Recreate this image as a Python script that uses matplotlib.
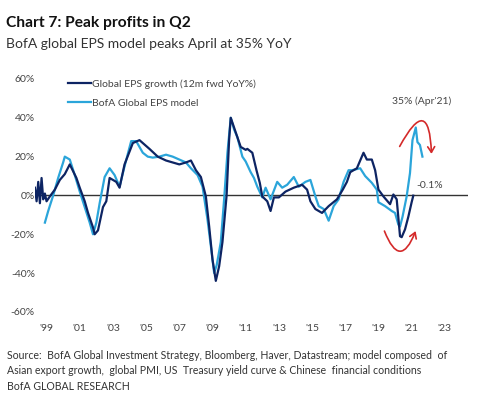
import matplotlib
matplotlib.use('Agg')
import matplotlib.pyplot as plt
from matplotlib.patches import FancyArrowPatch

plt.rcParams['font.family'] = ['Lato', 'DejaVu Sans']

# Global EPS growth (12m fwd YoY%)
dark_years = [1998.3, 1998.4, 1998.5, 1998.6, 1998.7, 1998.8, 1998.9, 1999.0, 1999.2, 1999.5,
              1999.8, 2000.1, 2000.4, 2000.8, 2001.0, 2001.3, 2001.5, 2001.8, 2001.9, 2002.1,
              2002.4, 2002.6, 2002.8, 2003.2, 2003.4, 2003.7, 2004.2, 2004.6, 2005.2, 2005.7,
              2006.2, 2006.6, 2007.0, 2007.4, 2007.7, 2008.0, 2008.3, 2008.6, 2008.8, 2009.0,
              2009.2, 2009.4, 2009.6, 2009.85, 2010.0, 2010.1, 2010.3, 2010.7, 2011.0, 2011.1,
              2011.4, 2011.65, 2011.85, 2012.0, 2012.3, 2012.5, 2012.7, 2013.0, 2013.4, 2013.9,
              2014.4, 2014.7, 2014.9, 2015.2, 2015.6, 2016.0, 2016.5, 2016.85, 2017.1, 2017.3,
              2017.7, 2018.1, 2018.3, 2018.6, 2018.8, 2019.0, 2019.3, 2019.7, 2019.9, 2020.1,
              2020.3, 2020.4, 2020.6, 2020.8, 2021.0, 2021.1]
dark_vals = [4, -3, 7, -4, 9, -2, 1, -3, -0.5, 3,
             8, 11, 16, 9, 4, -3, -9, -16.5, -20, -18,
             -6, -3, 9, 7, 4, 16, 27, 28.5, 24, 20,
             18, 17, 16, 17, 18, 13, 9.5, -0.5, -16, -33,
             -44, -36.5, -24, 0, 28.5, 40, 35, 25, 23.5, 24,
             22, 13, 6.5, -0.5, -3, -8, -1, -1, 2, 4,
             5.5, 3, -3, -7, -9, -5.5, -2, 3, 7, 12,
             14, 22, 18.5, 18.5, 13, 3, -0.5, -4.5, 0.5, -2,
             -21, -21.5, -17.5, -11, -3.5, -0.1]

# BofA Global EPS model
light_years = [1998.9, 1999.1, 1999.4, 1999.7, 2000.0, 2000.1, 2000.4, 2000.7, 2001.0, 2001.3,
               2001.6, 2001.8, 2002.0, 2002.2, 2002.5, 2002.8, 2003.1, 2003.4, 2003.7, 2004.1,
               2004.4, 2004.8, 2005.1, 2005.4, 2005.8, 2006.2, 2006.6, 2007.0, 2007.4, 2007.7,
               2008.1, 2008.4, 2008.7, 2008.9, 2009.1, 2009.25, 2009.5, 2009.7, 2009.9, 2010.1,
               2010.3, 2010.5, 2010.8, 2011.0, 2011.3, 2011.5, 2011.7, 2012.0, 2012.2, 2012.5,
               2012.9, 2013.2, 2013.5, 2013.9, 2014.2, 2014.6, 2014.9, 2015.2, 2015.4, 2015.7,
               2016.0, 2016.3, 2016.6, 2016.9, 2017.2, 2017.4, 2017.9, 2018.2, 2018.6, 2018.9,
               2019.0, 2019.4, 2019.8, 2020.0, 2020.2, 2020.3, 2020.45, 2020.7, 2020.9, 2021.05,
               2021.25, 2021.35, 2021.5, 2021.65]
light_vals = [-14, -8, 0, 9, 17, 20, 18.5, 10.5, 2, -6,
              -14, -20, -14, -4, 9.5, 14, 10.5, 4.5, 15, 28,
              28, 22, 20, 19.5, 20, 21, 20, 18.5, 17, 14,
              10.5, 4.5, -12.5, -26, -40, -36, -24, -2, 22, 40,
              34, 30, 20, 17.5, 12, 9, 4.5, -1, 4, -2,
              7, 4, 5.5, 9.5, 4.5, 7, 8, -0.5, -5.5, -7,
              -13, -5.5, -2, 7, 13, 13, 14, 10, 6.5, 3,
              -3.5, -5.5, -8, -9, -15, -16, -11, -0.5, 11.5, 28.5,
              35, 27.5, 26, 20]

tick_years = list(range(1999, 2024, 2))
tick_labels = ["'" + str(y)[2:] for y in tick_years]
y_ticks = [-60, -40, -20, 0, 20, 40, 60]

dark_col = '#0d2463'
light_col = '#2ba5da'
grey = '#444444'

fig = plt.figure(figsize=(4.99, 4.03), dpi=100)
ax = fig.add_axes([0.070, 0.226, 0.868, 0.578])

ax.axhline(0, color='#333333', lw=1.0, zorder=1)
ax.plot(dark_years, dark_vals, color=dark_col, lw=1.6, zorder=3,
        label='Global EPS growth (12m fwd YoY%)')
ax.plot(light_years, light_vals, color=light_col, lw=1.6, zorder=2,
        label='BofA Global EPS model')

ax.set_xlim(1998.3, 2024.4)
ax.set_ylim(-60, 60)
ax.set_xticks(tick_years)
ax.set_xticklabels(tick_labels)
ax.set_yticks(y_ticks)
ax.set_yticklabels([f'{v}%' for v in y_ticks])
ax.tick_params(axis='both', length=0, labelsize=7.5, colors=grey)
ax.tick_params(axis='x', pad=9)
ax.tick_params(axis='y', pad=0)
for s in ax.spines.values():
    s.set_visible(False)

leg = ax.legend(loc='upper left', bbox_to_anchor=(0.055, 1.04), frameon=False,
                fontsize=7.5, handlelength=2.2, handletextpad=0.1, labelspacing=0.95)
for t in leg.get_texts():
    t.set_color(grey)

# annotations
ax.text(2021.6, 48.5, "35% (Apr'21)", fontsize=7.5, color=grey, ha='center', va='center')
ax.text(2022.1, 5, "-0.1%", fontsize=7.5, color=grey, ha='center', va='center')

red = '#d42a2a'
ax.add_patch(FancyArrowPatch((2020.2, 24), (2022.2, 20), connectionstyle='arc3,rad=-1.9',
                             arrowstyle='->,head_length=4,head_width=2.5', color=red, lw=1.2))
ax.add_patch(FancyArrowPatch((2019.3, -17), (2021.3, -17), connectionstyle='arc3,rad=1.35',
                             arrowstyle='->,head_length=4,head_width=2.5', color=red, lw=1.2))

# titles and source
fig.text(0.012, 1 - 23 / 403, 'Chart 7: Peak profits in Q2', fontsize=11.2, fontweight='bold',
         color='#111111', va='center', ha='left')
fig.text(0.012, 1 - 44 / 403, 'BofA global EPS model peaks April at 35% YoY', fontsize=10,
         color='#333333', va='center', ha='left')
src = ('Source:  BofA Global Investment Strategy, Bloomberg, Haver, Datastream; model composed  of\n'
       'Asian export growth,  global PMI, US  Treasury yield curve & Chinese  financial conditions\n'
       'BofA GLOBAL RESEARCH')
fig.text(0.014, 1 - 350 / 403, src, fontsize=7.6, color='#333333', va='top', ha='left',
         linespacing=1.5)

fig.savefig('out.png', dpi=100)
